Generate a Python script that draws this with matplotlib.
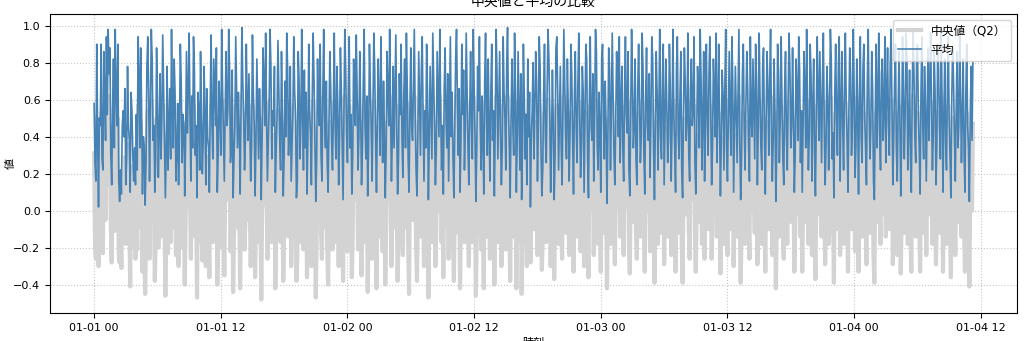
import matplotlib
matplotlib.use("Agg")
import matplotlib.pyplot as plt
import matplotlib.dates as mdates
import pandas as pd

plt.rcParams['font.family'] = ['DejaVu Sans', 'Noto Sans CJK JP']

start_time = "2024-01-01 00:00"
freq = "5min"

# values, in hundredths
mean_hundredths = """
58 26 16 90 40 02 50 46 90 28 22 86 66 38 94 52 98 74 88 30 14 54 82 34 98
64 46 90 16 05 22 09 46 54 40 66 14 28 78 46 38 10 64 54 30 16 34 14 52 22
94 74 34 88 54 09 40 34 03 26 78 94 64 16 54 98 82 38 46 10 28 88 62 18 42
74 28 50 95 66 40 07 34 78 22 46 66 28 98 54 34 82 64 16 30 58 14 40 90 70
26 52 46 08 38 86 42 64 96 52 16 62 34 94 76 30 46 07 64 54 22 86 50 20 38
78 52 14 66 40 34 10 58 95 46 28 82 64 46 88 10 30 70 52 30 98 66 40 16 54
86 46 54 98 76 26 34 76 07 28 46 94 62 34 64 42 09 52 99 70 52 22 38 90 58
38 74 46 16 34 95 64 46 08 38 82 54 28 66 46 06 40 88 70 46 96 52 16 38 58
98 78 28 54 46 78 10 34 52 92 64 38 22 86 54 08 30 70 40 96 76 30 46 78 16
34 54 94 64 52 07 16 86 70 28 46 98 54 22 76 34 64 09 38 90 52 42 14 62 96
70 38 05 28 82 54 46 90 30 16 64 98 52 34 70 26 10 46 86 66 38 22 54 96 46
28 78 58 14 40 88 66 34 06 54 98 76 42 26 64 94 34 52 09 30 82 62 46 95 64
22 40 86 54 14 34 70 98 46 28 62 08 34 90 66 46 16 54 96 76 38 10 50 82 58
30 94 52 26 70 42 07 34 86 64 46 98 54 16 40 78 34 64 95 46 09 28 74 52 90
40 18 62 82 34 96 66 28 10 54 88 46 38 70 98 52 22 08 42 86 58 30 76 94 50
16 54 34 90 64 06 38 78 52 28 96 70 46 14 34 86 62 40 98 54 22 46 09 66 88
50 34 74 16 54 94 40 64 28 07 46 82 98 58 30 66 10 38 90 52 76 22 46 96 64
34 14 54 86 46 28 98 66 40 05 34 78 54 94 46 22 62 38 09 70 96 52 30 82 46
16 64 90 38 54 08 46 98 74 28 58 86 42 14 34 94 64 50 22 78 99 54 34 07 52
82 46 30 96 64 10 40 86 54 22 74 06 34 90 62 28 52 14 82 40 64 02 38 54 80
28 54 86 70 16 46 94 78 34 08 22 62 90 40 26 66 98 82 52 10 38 76 46 06 30 88 94 64 22 50 78 34 14 58 98 70 40 28 82 54 16 42 90 74 38 09 62 86 46 26
70 96 52 18 34 78 64 10 50 90 82 28 07 58 94 46 38 74 16 54 98 86 34 22 64 42 10 82 90 52 28 70 46 04 38 88 76 22 54 96 62 30 14 50 86 66 40 94 26 58
78 34 16 64 94 52 42 86 22 08 54 98 70 34 46 82 28 14 66 90 58 26 40 96 76 30 09 62 88 46 38 74 18 52 94 82 34 06 46 86 64 22 54 98 40 28 70 90 14 50
82 58 26 38 90 66 16 46 98 52 34 10 76 94 42 28 62 86 22 07 54 88 70 38 50 96 30 16 66 82 46 54 94 26 09 40 78 62 34 98 70 22 50 86 16 58 90 46 30 74
94 52 14 34 82 64 40 96 26 54 90 46 08 38 76 62 22 66 98 34 16 50 86 54 30 94 70 10 42 78 52 26 62 98 38 06 28 74 90 46 22 58 86 66 34 16 94 50 40 82
54 28 90 70 14 46 96 62 34 22 78 88 42 09 52 86 64 30 70 98 46 16 38 82 54 05 34 90 74 26 50 94 58 28 14 66 86 40 22 62 96 76 34 46 88 52 10 30 82 64
38 94 76 26 54 10 46 86 66 34 98 52 22 42 90 74 16 58 82 30 08 50 94 64 38 86 54 26 70 96 46 14 34 78 62 22 52 98 82 28 42 07 64 90 50 30 76 94 16 54
86 46 22 66 96 58 38 10 52 88 74 30 46 98 64 18 34 82 54 09 62 94 40 26 76 90 50 34 14 70 98 54 28 46 86 66 16 06 52 90 34 62 96 42 22 74 82 38 54 94
26 64 88 46 30 78 98 58 14 40 70 90 34 16 54 86 50 08 38 94 66 28 52 96 82 22 46 76 30 10 62 98 74 40 26 82 90 52 34 09 64 94 46 28 78 58 16 50 88 38
70 96 54 22 42 86 64 14 34 90 76 46 28 98 58 10 52 82 38 22 66 94 50 30 07 62 88 70 40 16 54 86 34 46 96 64 26 52 82 30 10 64 90 46 34 05 52 78 38 80
"""

median_hundredths = """
31 -17 -26 50 05 -30 17 01 53 -14 -23 48 24 -05 54 14 62 31 46 -10 -28 17 42 -11 60
24 06 50 -24 -28 -15 -31 09 14 -05 29 -18 -10 36 03 -02 -41 24 12 -17 -20 -06 -26 14 -21
57 36 -09 48 14 -33 00 -11 -45 -17 38 54 26 -26 17 60 42 -05 06 -38 -14 50 22 -20 02
36 -14 12 57 24 -02 -46 -09 41 -23 06 29 -17 60 14 -09 45 26 -24 -12 21 -30 00 53 33
-20 14 06 -40 -05 48 02 26 59 12 -26 24 -09 57 38 -14 06 -47 26 14 -17 48 10 -27 -02
41 12 -30 29 00 -09 -36 18 57 06 -17 45 24 03 50 -40 -12 33 12 -20 60 29 -02 -35 14
48 06 14 62 38 -22 -06 36 -44 -14 06 57 22 -09 26 02 -42 12 62 33 12 -21 -05 53 18
-05 36 03 -30 -09 57 26 06 -36 -05 45 14 -17 29 06 -48 00 50 33 03 59 14 -26 -05 21
60 41 -17 14 06 41 -42 -09 12 54 26 -05 -17 48 14 -38 -12 33 -02 59 38 -14 06 41 -30
-09 17 57 26 12 -38 -24 48 33 -17 06 62 17 -21 38 -09 26 -36 -02 53 14 02 -30 24 59
33 -05 -47 -14 45 17 06 53 -12 -26 26 62 14 -09 33 -20 -40 06 48 29 -05 -21 17 59 09
-17 41 21 -30 00 50 29 -09 -38 14 62 38 02 -22 26 57 -06 14 -36 -12 45 24 06 59 26
-21 00 48 14 -35 -06 33 60 06 -17 24 -44 -09 53 29 06 -26 14 59 38 -05 -42 10 45 21
-14 57 12 -22 33 02 -40 -09 48 26 06 62 14 -30 00 41 -09 26 57 06 -38 -17 36 14 53
00 -24 24 45 -09 59 29 -17 -45 17 50 06 -05 33 62 14 -17 -38 02 48 21 -14 38 57 10
-30 17 -09 53 26 -47 -05 41 14 -17 59 33 06 -30 -09 48 24 00 62 17 -17 06 -36 29 50
10 -09 36 -26 14 57 00 26 -17 -38 06 45 62 21 -12 29 -42 -05 53 14 38 -17 06 59 26
-09 -30 14 48 06 -17 62 29 00 -46 -09 41 17 57 06 -21 24 -05 -42 33 59 14 -14 45 06
-26 26 53 -05 17 -40 06 62 36 -17 21 48 02 -30 -09 57 26 12 -21 41 62 14 -09 -38 14
45 06 -14 59 26 -42 00 48 14 -17 36 -45 -09 53 24 -17 14 -30 45 00 26 -28 -05 17 47
-10 14 48 33 -24 06 57 38 -06 -32 -15 24 53 02 -17 29 60 42 12 -30 00 38 09 -37 -07 50 57 26 -18 12 41 -03 -26 21 62 30 02 -12 45 17 -24 05 53 36 00 -33 24 48 09 -14
30 59 14 -22 -06 41 26 -30 12 53 45 -10 -36 21 57 06 00 36 -24 17 60 48 -06 -18 26 02 -33 45 53 14 -12 33 06 -42 -02 50 38 -18 17 59 24 -10 -29 12 48 29 02 57 -14 21
41 -06 -24 26 57 12 02 48 -18 -34 17 60 33 -06 06 45 -12 -26 29 53 21 -14 02 59 38 -10 -33 24 50 06 00 36 -22 14 57 45 -06 -39 06 48 26 -18 17 62 00 -12 33 53 -29 12
45 21 -14 00 53 29 -24 06 60 14 -06 -33 38 57 02 -12 24 48 -18 -39 14 50 33 -02 12 59 -10 -26 29 45 06 17 57 -14 -33 00 41 24 -06 62 33 -18 12 48 -26 21 53 06 -10 36
57 14 -26 -06 45 26 00 59 -14 17 53 06 -34 -02 38 24 -18 29 60 -06 -24 12 48 17 -10 57 33 -30 02 41 14 -14 24 62 -02 -39 -12 36 53 06 -18 21 48 29 -06 -26 57 12 00 45
17 -12 53 33 -29 06 59 24 -06 -18 41 50 02 -33 14 48 26 -10 33 62 06 -24 -02 45 17 -42 -06 53 36 -14 12 57 21 -12 -26 29 48 00 -18 24 59 38 -06 06 50 14 -33 -10 45 26
-02 57 38 -14 17 -33 06 48 29 -06 60 14 -18 02 53 36 -24 21 45 -10 -37 12 57 26 -02 48 17 -14 33 59 06 -29 -06 41 24 -18 14 62 45 -12 02 -39 26 53 12 -10 38 57 -24 17
48 06 -18 29 59 21 -02 -33 14 50 36 -10 06 62 26 -22 -06 45 17 -33 24 57 00 -14 38 53 12 -06 -29 33 60 17 -12 06 48 29 -24 -39 14 53 -06 24 59 02 -18 36 45 -02 17 57
-14 26 50 06 -10 41 60 21 -29 00 33 53 -06 -24 17 48 12 -34 -02 57 29 -12 14 59 45 -18 06 38 -10 -33 24 62 36 00 -14 45 53 14 -06 -33 26 57 06 -12 41 21 -24 12 50 -02
33 59 17 -18 02 48 26 -29 -06 53 38 06 -12 62 21 -33 14 45 -02 -18 29 57 12 -10 -36 24 50 33 00 -24 17 48 -06 06 59 26 -14 14 45 -10 -33 26 53 06 -06 -41 14 41 00 47
"""

mean_values = [int(v) / 100 for v in mean_hundredths.split()]
median_values = [int(v) / 100 for v in median_hundredths.split()]
n = min(len(mean_values), len(median_values))
mean_values = mean_values[:n]
median_values = median_values[:n]

times = pd.date_range(start_time, periods=n, freq=freq)

fig = plt.figure(figsize=(10.24, 3.41), dpi=100)
ax = fig.add_axes([0.049, 0.082, 0.944, 0.877])

ax.plot(times, median_values, color='lightgray', linewidth=3.0, label='中央値（Q2）')
ax.plot(times, mean_values, color='steelblue', linewidth=1.2, label='平均')

ax.set_title('中央値と平均の比較', fontsize=10)
ax.set_xlabel('時刻', fontsize=8)
ax.set_ylabel('値', fontsize=8)
ax.yaxis.set_label_coords(-0.036, 0.5)
ax.xaxis.set_major_locator(mdates.HourLocator(byhour=[0, 12]))
ax.xaxis.set_major_formatter(mdates.DateFormatter('%m-%d %H'))
ax.tick_params(labelsize=8)
ax.grid(True, linestyle=':', color='#b0b0b0', alpha=0.7)
ax.legend(loc='upper right', fontsize=8.5)

fig.savefig('out.png', dpi=100)
